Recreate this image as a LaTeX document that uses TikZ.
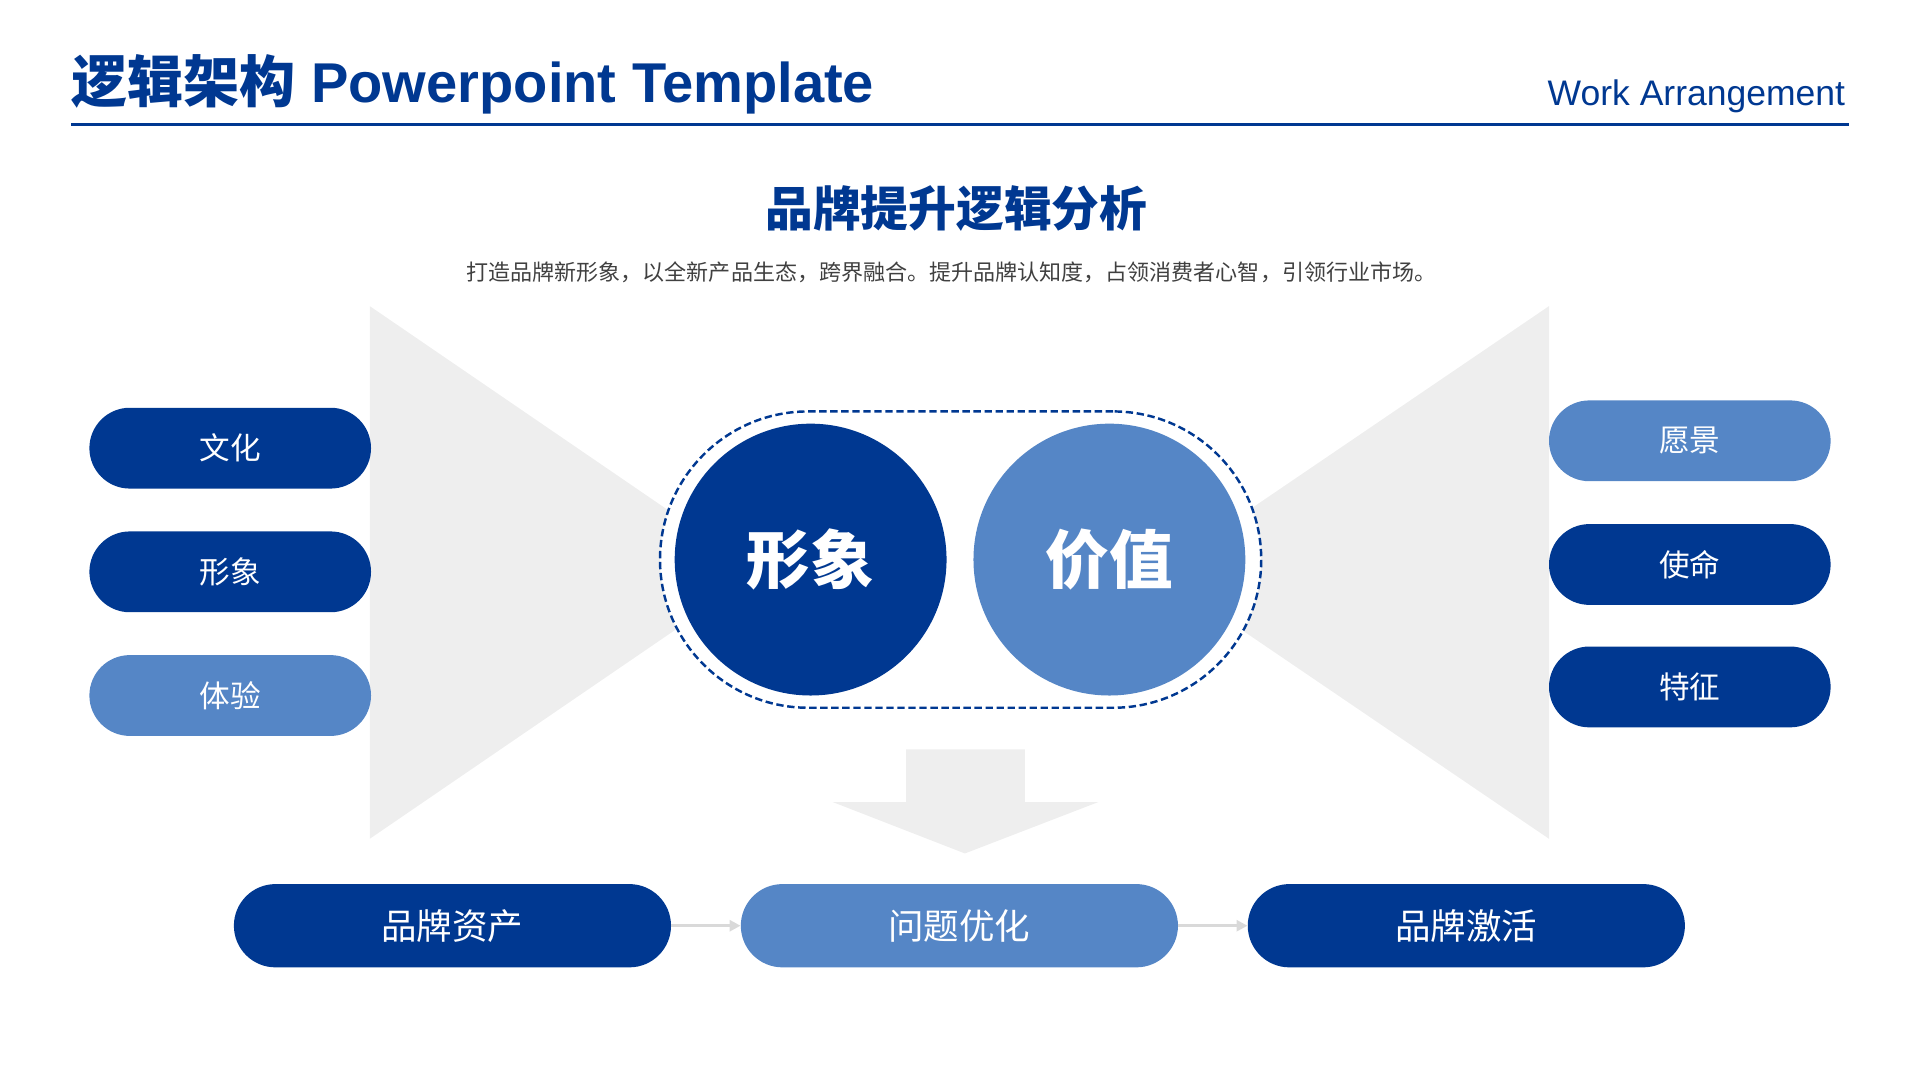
\documentclass[tikz,border=0pt]{standalone}
\usepackage{fontspec}
\setmainfont{Liberation Sans}
\newfontfamily\cjk{Noto Sans CJK SC}
\usetikzlibrary{arrows.meta}
\definecolor{dblue}{RGB}{0,56,145}
\definecolor{lblue}{RGB}{85,134,198}
\definecolor{tri}{RGB}{238,238,238}
\definecolor{conn}{RGB}{217,217,217}
\definecolor{txtgray}{RGB}{64,64,64}
\begin{document}
\begin{tikzpicture}[x=1pt,y=-1pt,
  pill/.style={rectangle, rounded corners=33pt, minimum width=230pt, minimum height=66pt, inner sep=0pt, text=white, font=\cjk\fontsize{25}{30}\selectfont},
  bpill/.style={rectangle, rounded corners=34pt, minimum width=357pt, minimum height=68pt, inner sep=0pt, text=white, font=\cjk\fontsize{29}{34}\selectfont},
  bigc/.style={circle, minimum size=222pt, inner sep=0pt, text=white, font=\cjk\bfseries\fontsize{52}{60}\selectfont},
  conn/.style={draw=conn, line width=2.2pt, -{Triangle[length=9pt,width=9pt]}}
]
\useasboundingbox (0,0) rectangle (1568,882);
% header
\node[anchor=base west, inner sep=0pt, text=dblue, font=\bfseries\fontsize{45.8}{54}\selectfont] (title) at (58,84) {{\cjk 逻辑架构} Powerpoint Template};
\node[anchor=base east, inner sep=0pt, text=dblue, font=\fontsize{29}{34}\selectfont] (work) at (1507,86) {Work Arrangement};
\draw[dblue, line width=2.5pt] (58,102) -- (1510,102);
\node[text=dblue, font=\cjk\bfseries\fontsize{39}{46}\selectfont] (head) at (781,170) {品牌提升逻辑分析};
\node[text=txtgray, font=\cjk\fontsize{18}{22}\selectfont] (sub) at (777,222) {打造品牌新形象，以全新产品生态，跨界融合。提升品牌认知度，占领消费者心智，引领行业市场。};
% gray triangles
\fill[tri] (302,250) -- (302,685) -- (620,467.5) -- cycle;
\fill[tri] (1265,250) -- (1265,685) -- (945,467.5) -- cycle;
% down arrow
\fill[tri] (740,612) -- (837,612) -- (837,655) -- (897,655) -- (788,697) -- (680,655) -- (740,655) -- cycle;
% center frame and circles
\node[draw=dblue, fill=white, dash pattern=on 6pt off 3pt, line width=2pt, rectangle, rounded corners=121pt, minimum width=491pt, minimum height=242pt] (frame) at (784.5,457) {};
\node[bigc, fill=dblue] (xx) at (662,457) {形象};
\node[bigc, fill=lblue] (jz) at (906,457) {价值};
% left pills
\node[pill, fill=dblue] (wh) at (188,366) {文化};
\node[pill, fill=dblue] (xx2) at (188,467) {形象};
\node[pill, fill=lblue] (ty) at (188,568) {体验};
% right pills
\node[pill, fill=lblue] (yj) at (1380,360) {愿景};
\node[pill, fill=dblue] (sm) at (1380,461) {使命};
\node[pill, fill=dblue] (tz) at (1380,561) {特征};
% bottom pills
\node[bpill, fill=dblue] (b1) at (369.5,756) {品牌资产};
\node[bpill, fill=lblue] (b2) at (783.5,756) {问题优化};
\node[bpill, fill=dblue] (b3) at (1197.5,756) {品牌激活};
\draw[conn] (b1) -- (b2);
\draw[conn] (b2) -- (b3);
\end{tikzpicture}
\end{document}
